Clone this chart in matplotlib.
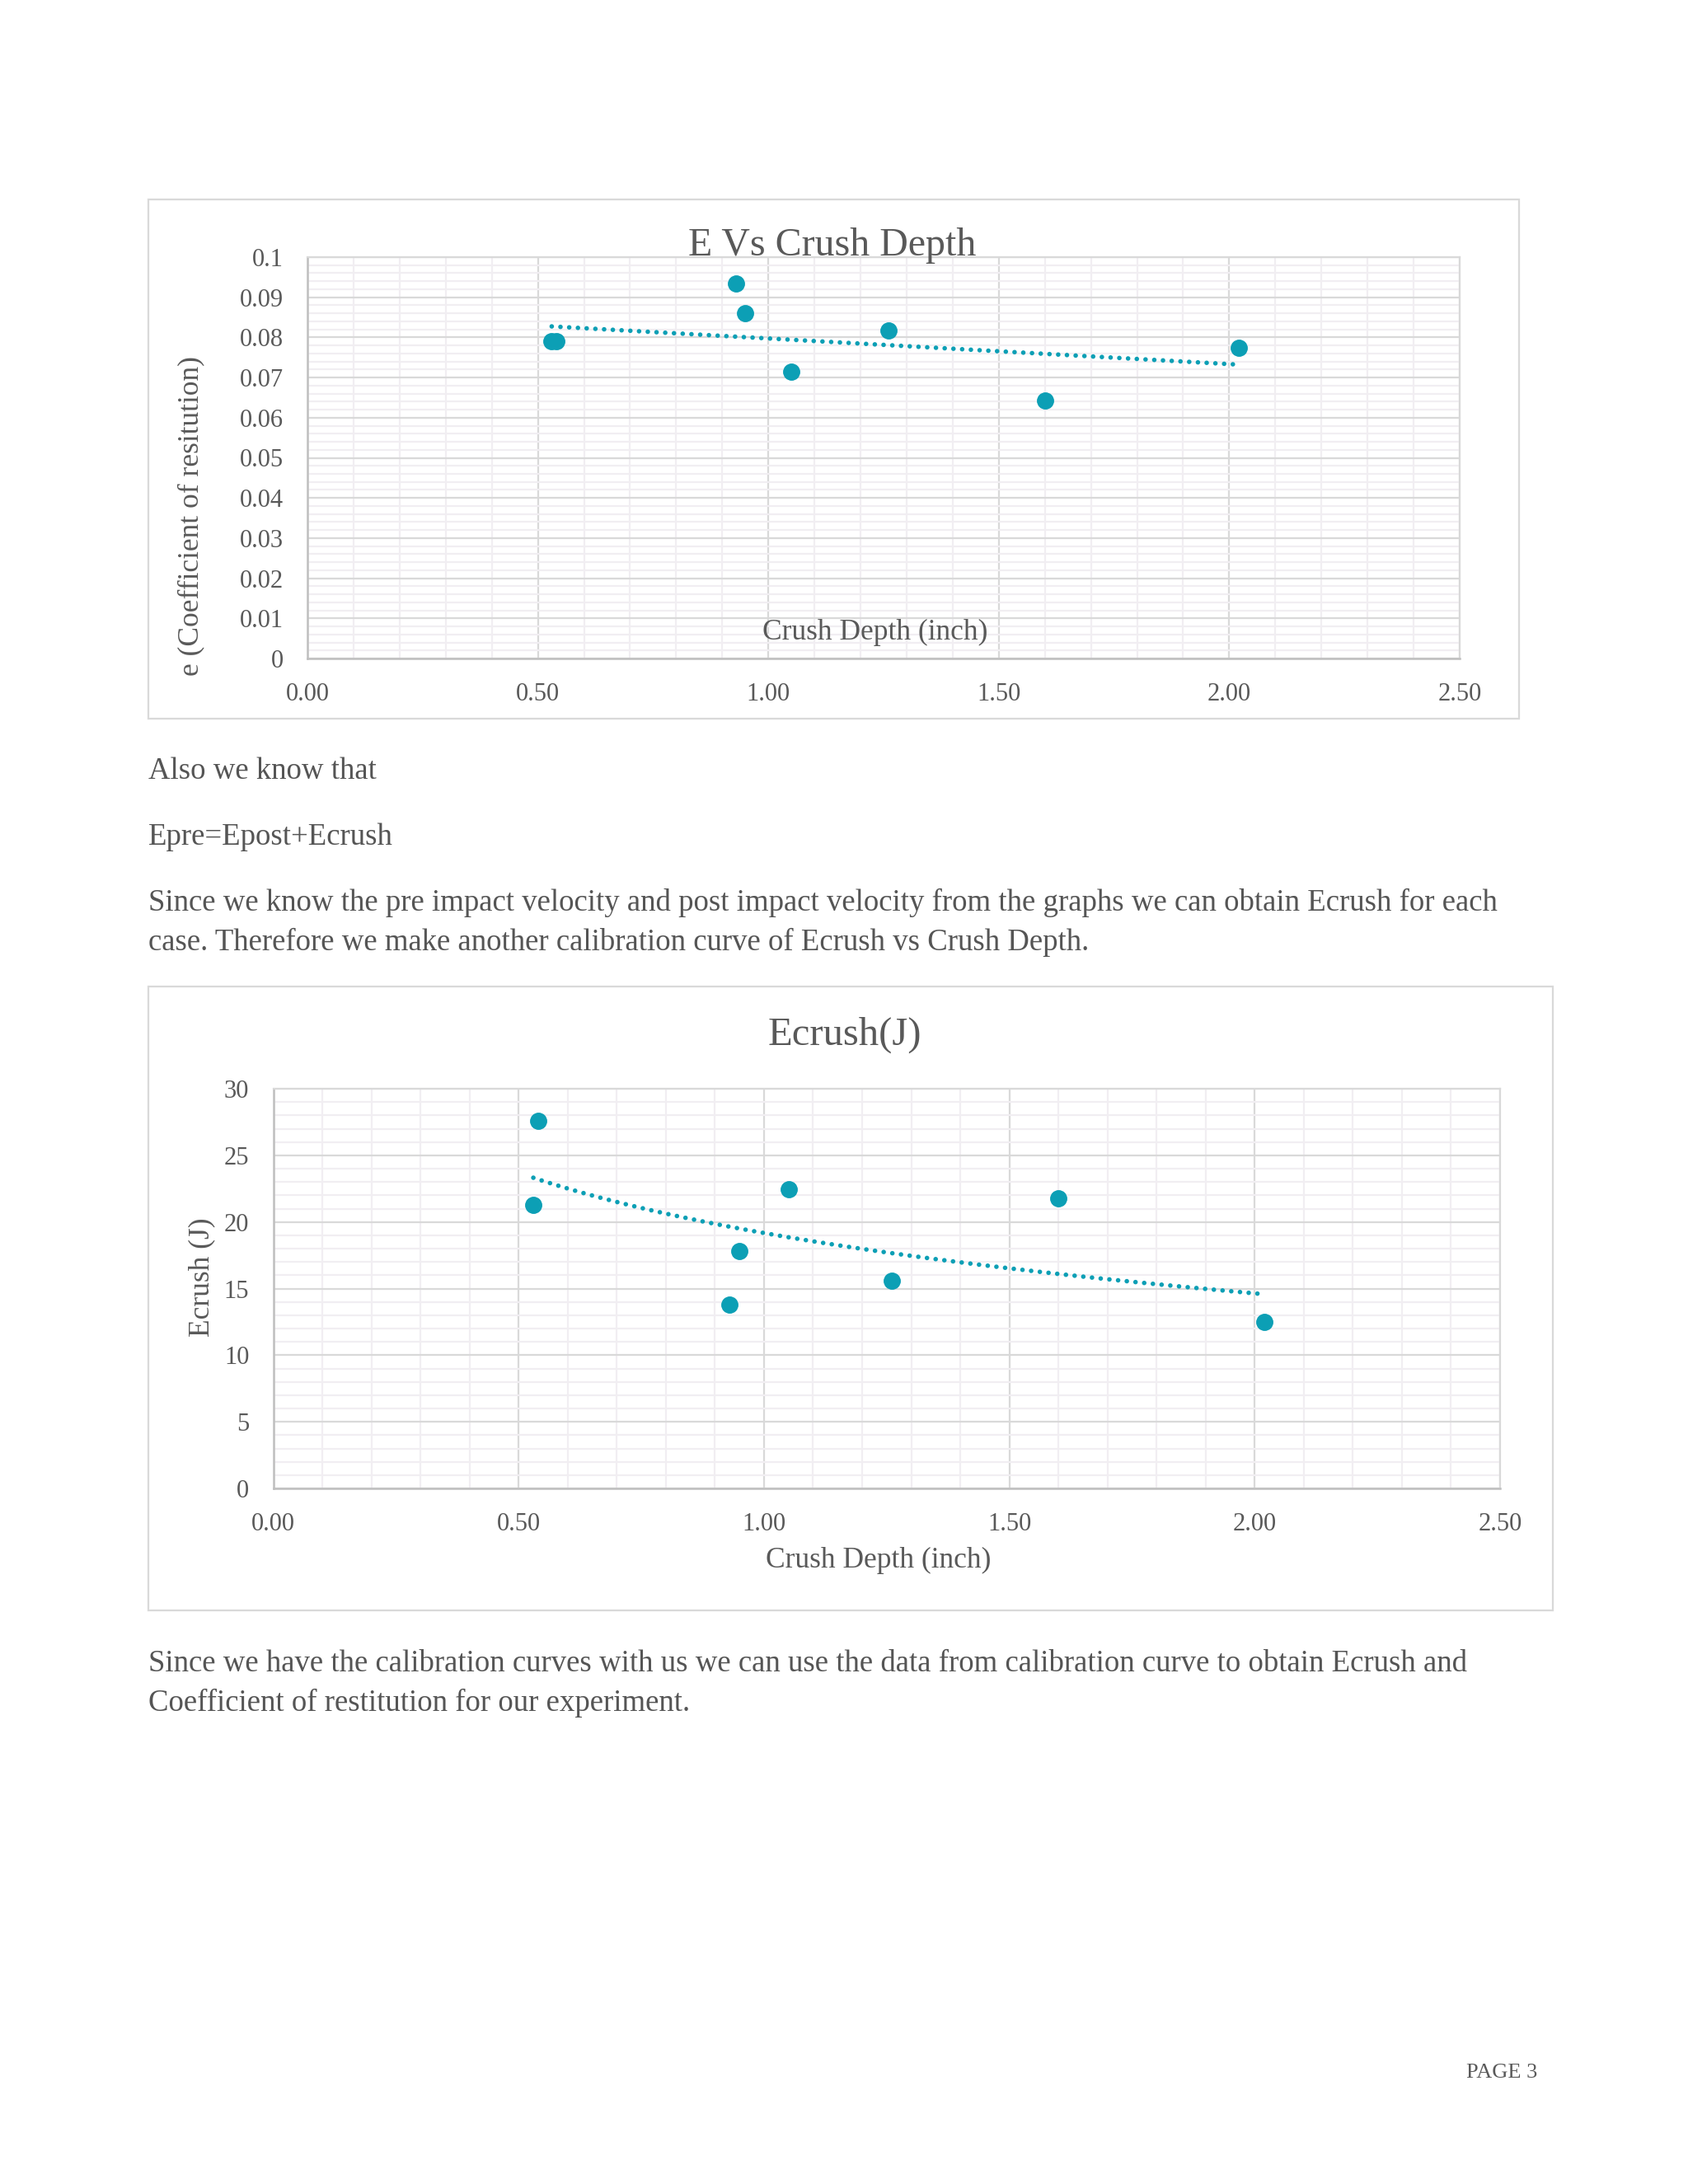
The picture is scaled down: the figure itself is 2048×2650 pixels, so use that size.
import numpy as np
import matplotlib
matplotlib.use("Agg")
import matplotlib.pyplot as plt
from matplotlib.patches import Rectangle
from matplotlib.ticker import MultipleLocator, FuncFormatter

# page size in pixels (saved at dpi 100)
W, H = 2048, 2650

# data
crush_depth = [0.53, 0.54, 0.93, 0.95, 1.05, 1.26, 1.60, 2.02]
e_values = [0.0790, 0.0790, 0.0935, 0.0860, 0.0715, 0.0817, 0.0642, 0.0774]
ecrush_values = [21.3, 27.6, 13.8, 17.8, 22.45, 15.6, 21.8, 12.5]

para1 = "Also we know that"
para2 = "Epre=Epost+Ecrush"
para3 = ["Since we know the pre impact velocity and post impact velocity from the graphs we can obtain Ecrush for each",
         "case. Therefore we make another calibration curve of Ecrush vs Crush Depth."]
para4 = ["Since we have the calibration curves with us we can use the data from calibration curve to obtain Ecrush and",
         "Coefficient of restitution for our experiment."]

TEAL = "#0c9fb5"
GREY = "#595959"
plt.rcParams["font.family"] = ["Liberation Serif", "DejaVu Serif"]


def fx(px):
    return px / W


def fy(py):
    return 1 - py / H


def add_box(fig, x0, y0, x1, y1):
    fig.add_artist(Rectangle((fx(x0), fy(y1)), fx(x1) - fx(x0), fy(y0) - fy(y1),
                             transform=fig.transFigure, facecolor="white",
                             edgecolor="#d9d9d9", lw=1.6, zorder=-1))


def style_axes(ax, ymax, ymajor, yminor, yfmt):
    ax.set_xlim(0, 2.5)
    ax.set_ylim(0, ymax)
    ax.xaxis.set_major_locator(MultipleLocator(0.5))
    ax.xaxis.set_minor_locator(MultipleLocator(0.1))
    ax.yaxis.set_major_locator(MultipleLocator(ymajor))
    ax.yaxis.set_minor_locator(MultipleLocator(yminor))
    ax.xaxis.set_major_formatter(FuncFormatter(lambda v, p: f"{v:.2f}"))
    ax.yaxis.set_major_formatter(FuncFormatter(yfmt))
    ax.grid(which="minor", color="#f1eef2", lw=1.6)
    ax.grid(which="major", color="#d9d9d9", lw=1.6)
    ax.set_axisbelow(True)
    for s in ["top", "right"]:
        ax.spines[s].set_color("#d9d9d9")
        ax.spines[s].set_linewidth(1.6)
    for s in ["left", "bottom"]:
        ax.spines[s].set_color("#bfbfbf")
        ax.spines[s].set_linewidth(1.8)
    ax.tick_params(which="both", length=0, labelsize=22, labelcolor=GREY)
    ax.tick_params(axis="x", pad=21)
    ax.tick_params(axis="y", pad=21)


def e_fmt(v, p):
    s = f"{v:.2f}".rstrip("0").rstrip(".")
    return s


fig = plt.figure(figsize=(W / 100, H / 100), dpi=100)
fig.patch.set_facecolor("white")

# ---- chart 1: E vs crush depth ----
add_box(fig, 180, 242, 1843, 872)
ax1 = fig.add_axes([fx(373), fy(799), (1771 - 373) / W, (799 - 312) / H])
style_axes(ax1, 0.1, 0.01, 0.002, e_fmt)
x = np.array(crush_depth)
k1, b1 = np.polyfit(x, e_values, 1)
xs = np.linspace(x.min(), x.max(), 100)
ax1.plot(xs, k1 * xs + b1, color=TEAL, lw=4, linestyle=(0, (0.01, 1.9)),
         dash_capstyle="round", zorder=2)
ax1.plot(x, e_values, "o", color=TEAL, markersize=14, zorder=3)
fig.text(fx(1010), fy(298), "E Vs Crush Depth", fontsize=34.5, color=GREY,
         ha="center", va="center")
fig.text(fx(1062), fy(767), "Crush Depth (inch)", fontsize=25.5, color=GREY,
         ha="center", va="center")
fig.text(fx(232), fy(626), "e (Coefficient of resitution)", fontsize=25.5,
         color=GREY, ha="center", va="center", rotation=90)

# ---- body text ----
body = dict(fontsize=26.5, color="#555555", ha="left", va="center")
fig.text(fx(180), fy(936), para1, **body)
fig.text(fx(180), fy(1016), para2, **body)
fig.text(fx(180), fy(1095), para3[0], **body)
fig.text(fx(180), fy(1143), para3[1], **body)

# ---- chart 2: Ecrush vs crush depth ----
add_box(fig, 180, 1197, 1884, 1954)
ax2 = fig.add_axes([fx(331.5), fy(1806), (1820 - 331.5) / W, (1806 - 1321) / H])
style_axes(ax2, 30, 5, 1, lambda v, p: f"{v:.0f}")
a2, c2 = np.polyfit(np.log(x), ecrush_values, 1)
ax2.plot(xs, a2 * np.log(xs) + c2, color=TEAL, lw=4, linestyle=(0, (0.01, 1.9)),
         dash_capstyle="round", zorder=2)
ax2.plot(x, ecrush_values, "o", color=TEAL, markersize=14, zorder=3)
fig.text(fx(1025), fy(1256), "Ecrush(J)", fontsize=35, color=GREY,
         ha="center", va="center")
fig.text(fx(1066), fy(1893), "Crush Depth (inch)", fontsize=25.5, color=GREY,
         ha="center", va="center")
fig.text(fx(245), fy(1550), "Ecrush (J)", fontsize=25.5, color=GREY,
         ha="center", va="center", rotation=90)

fig.text(fx(180), fy(2019), para4[0], **body)
fig.text(fx(180), fy(2066), para4[1], **body)

fig.text(fx(1865), fy(2515), "PAGE 3", fontsize=19, color=GREY,
         ha="right", va="center")

fig.savefig("out.png", dpi=100)
